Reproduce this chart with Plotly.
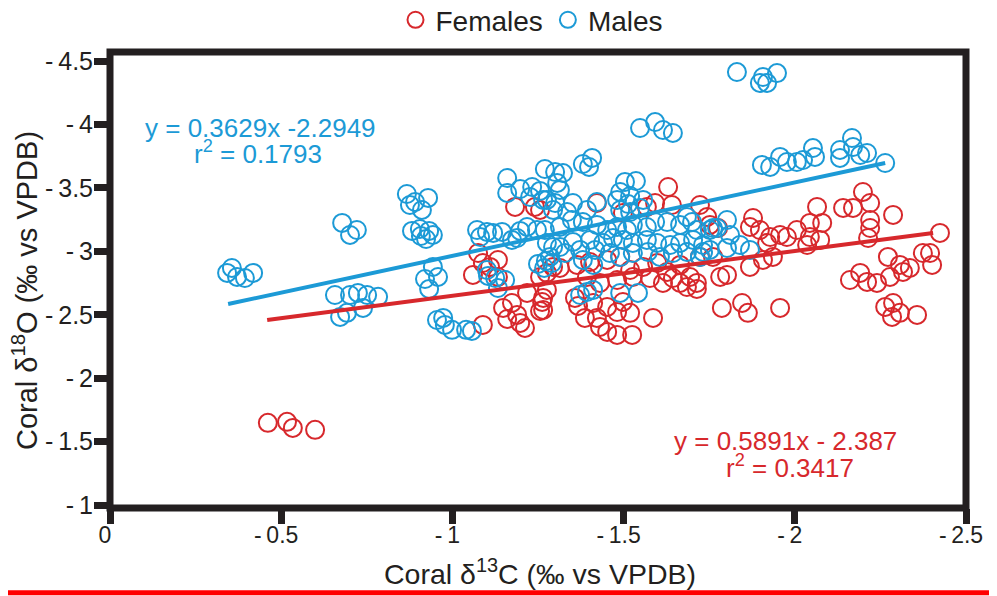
import plotly.graph_objects as go

# ---------------- data ----------------
females_d13c = [-0.461, -0.517, -0.534, -0.599,
                -1.075, -1.089, -1.133, -1.060, -1.110, -1.133,
                -1.183, -1.241, -1.256,
                -1.218, -1.262, -1.256, -1.148, -1.174, -1.189, -1.160, -1.198, -1.212, -1.089, -1.276,
                -1.294, -1.314, -1.364, -1.402, -1.452, -1.490, -1.519, -1.557, -1.598, -1.627, -1.665,
                -1.694, -1.714, -1.723, -1.761,
                -1.256, -1.276, -1.393, -1.431, -1.481, -1.527, -1.577, -1.615, -1.644, -1.665, -1.685, -1.714,
                -1.265, -1.265, -1.358, -1.367, -1.387, -1.411, -1.452, -1.481, -1.498, -1.519, -1.422,
                -1.431, -1.452, -1.481, -1.525, -1.586,
                -1.630, -1.592, -1.568, -1.641, -1.723, -1.744, -1.752, -1.776, -1.422, -1.498,
                -1.878, -1.869, -1.898, -1.919, -1.928, -1.957, -1.977, -2.006, -2.036, -2.044, -2.074,
                -2.044, -2.080, -2.065, -2.141, -2.170, -2.199, -2.220, -2.220, -2.220, -2.214, -2.287, -2.424,
                -1.936, -1.907, -1.869, -1.802, -1.782,
                -2.272, -2.307, -2.336, -2.395, -2.401, -2.161, -2.191, -2.211, -2.240, -2.278, -2.316, -2.374,
                -2.264, -2.287, -2.284, -2.307, -2.357,
                -1.787, -1.846, -1.863, -1.957]
females_d18o = [-1.648, -1.656, -1.608, -1.593,
                -2.987, -2.908, -2.932, -2.814, -2.877, -2.798,
                -3.350, -3.350, -3.326,
                -2.672, -2.601, -2.530, -2.554, -2.593, -2.499, -2.467, -2.436, -2.396, -2.420, -2.696,
                -2.877, -2.869, -2.893, -2.916, -2.932, -2.956, -2.853, -2.877, -2.908, -2.838, -2.893,
                -2.798, -2.751, -2.956, -2.956,
                -2.798, -2.830, -2.798, -2.751, -2.774, -2.798, -2.790, -2.751, -2.790, -2.751, -2.719, -2.704,
                -2.633, -2.538, -2.633, -2.570, -2.475, -2.593, -2.562, -2.522, -2.601, -2.515, -2.475,
                -2.404, -2.365, -2.341, -2.341, -2.475,
                -3.507, -3.381, -3.350, -3.365, -3.365, -3.271, -3.208, -3.184, -3.381, -3.302,
                -3.263, -3.192, -3.168, -3.066, -3.113, -3.129, -3.113, -3.168, -3.050, -3.113, -3.090,
                -3.224, -3.224, -3.350, -3.342, -3.342, -3.468, -3.381, -3.247, -3.184, -3.105, -3.287, -3.145,
                -2.956, -2.932, -2.877, -2.814, -2.798,
                -2.956, -2.893, -2.869, -2.987, -2.893, -2.774, -2.830, -2.759, -2.751, -2.798, -2.838, -2.987,
                -2.562, -2.593, -2.483, -2.515, -2.499,
                -2.554, -2.593, -2.515, -2.554]

males_d13c = [-0.356, -0.342, -0.371, -0.394, -0.418,
              -0.678, -0.721, -0.701,
              -0.657, -0.701, -0.724, -0.751, -0.783, -0.672, -0.692, -0.739,
              -0.867, -0.891, -0.929, -0.876, -0.911,
              -0.882, -0.905, -0.932, -0.908, -0.943, -0.923,
              -0.943, -0.958, -0.920, -0.932,
              -0.955, -0.973, -0.978, -0.999, -1.040, -1.057,
              -1.072, -1.101, -1.081, -1.119, -1.145, -1.174, -1.198, -1.218, -1.247, -1.189,
              -1.160, -1.160, -1.198, -1.233, -1.256, -1.270, -1.300, -1.323, -1.227, -1.276, -1.294, -1.306,
              -1.104, -1.125, -1.133, -1.154, -1.101,
              -1.250, -1.273, -1.291, -1.268,
              -1.276, -1.294,
              -1.381, -1.408, -1.399,
              -1.314, -1.265, -1.300, -1.352, -1.422, -1.393, -1.335,
              -1.504, -1.536, -1.490, -1.519, -1.481, -1.513, -1.557, -1.548, -1.490, -1.519,
              -1.270, -1.314, -1.349, -1.381, -1.422, -1.452, -1.481, -1.510, -1.527, -1.568, -1.592, -1.627,
              -1.685, -1.665, -1.700, -1.714, -1.752, -1.773,
              -1.314, -1.352, -1.402, -1.440, -1.469, -1.498, -1.527, -1.568, -1.598, -1.636, -1.665, -1.703,
              -1.732, -1.752,
              -1.285, -1.329, -1.373, -1.417, -1.460, -1.490, -1.527, -1.571, -1.606, -1.644, -1.685, -1.723,
              -1.381, -1.411, -1.393, -1.373, -1.411, -1.490, -1.542,
              -1.548, -1.592, -1.615, -1.644,
              -1.831, -1.907, -1.948, -1.898, -1.919,
              -1.904, -1.928, -1.957, -1.977, -2.006, -2.024, -2.053, -2.059, -2.132, -2.132, -2.167, -2.170,
              -2.191, -2.211, -2.264,
              -1.761, -1.802, -1.811, -1.840, -1.869, -1.802, -1.732]
males_d18o = [-2.869, -2.830, -2.798, -2.790, -2.830,
              -3.224, -3.168, -3.129,
              -2.656, -2.656, -2.672, -2.656, -2.641, -2.483, -2.515, -2.554,
              -3.452, -3.389, -3.421, -3.365, -3.326,
              -3.161, -3.176, -3.161, -3.121, -3.129, -3.097,
              -2.877, -2.798, -2.782, -2.704,
              -2.459, -2.475, -2.420, -2.381, -2.381, -2.373,
              -3.168, -3.153, -3.113, -3.145, -3.153, -3.090, -3.161, -3.192, -3.168, -3.105,
              -3.578, -3.460, -3.491, -3.507, -3.476, -3.649, -3.625, -3.617, -3.428, -3.405, -3.326, -3.539,
              -2.806, -2.790, -2.711, -2.774, -2.853,
              -2.901, -2.924, -2.908, -2.869,
              -3.066, -3.034,
              -3.688, -3.736, -3.665,
              -3.484, -3.405, -3.381, -3.381, -3.389, -3.326, -3.310,
              -3.547, -3.554, -3.468, -3.436, -3.405, -3.373, -3.405, -3.342, -3.326, -3.310,
              -3.168, -3.192, -3.247, -3.231, -3.208, -3.168, -3.192, -3.168, -3.208, -3.192, -3.231, -3.231,
              -3.271, -3.208, -3.231, -3.168, -3.168, -3.184,
              -3.034, -3.074, -3.090, -3.066, -3.105, -3.090, -3.066, -3.090, -3.066, -3.050, -3.066, -3.090,
              -3.050, -3.011,
              -2.956, -2.987, -3.011, -3.011, -2.987, -2.956, -2.987, -2.995, -2.956, -2.987, -2.995, -2.956,
              -2.932, -2.893, -2.680, -2.656, -2.696, -2.672, -2.672,
              -3.972, -4.019, -3.956, -3.933,
              -4.413, -4.374, -4.405, -4.327, -4.327,
              -3.681, -3.665, -3.744, -3.704, -3.704, -3.720, -3.814, -3.744, -3.799, -3.736, -3.893, -3.822,
              -3.759, -3.775, -3.696,
              -3.184, -3.247, -3.129, -3.050, -3.011, -3.027, -2.995]

# fitted trend lines (end points as drawn in the reference)
males_fit_x = [-0.345, -2.264]
males_fit_y = [-2.585, -3.696]
females_fit_x = [-0.459, -2.404]
females_fit_y = [-2.459, -3.145]

x_tick_vals = [0, -0.5, -1, -1.5, -2, -2.5]
x_tick_text = ["0", "-\u20090.5", "-\u20091", "-\u20091.5", "-\u20092", "-\u20092.5"]
y_tick_vals = [-1, -1.5, -2, -2.5, -3, -3.5, -4, -4.5]
y_tick_text = ["-\u20091", "-\u20091.5", "-\u20092", "-\u20092.5", "-\u20093", "-\u20093.5", "-\u20094", "-\u20094.5"]

x_title = "Coral δ<sup>13</sup>C (‰ vs VPDB)"
y_title = "Coral δ<sup>18</sup>O (‰ vs VPDB)"
males_eq = "y = 0.3629x -2.2949"
males_r2 = "r<sup>2</sup> = 0.1793"
females_eq = "y = 0.5891x - 2.387"
females_r2 = "r<sup>2</sup> = 0.3417"

# ---------------- styling ----------------
RED = "#D7282C"
BLUE = "#1C9AD6"
INK = "#231F20"
FONT = "Liberation Sans, Arial, sans-serif"

fig = go.Figure()
fig.add_trace(go.Scatter(
    x=females_d13c, y=females_d18o, mode="markers", name="Females",
    marker=dict(symbol="circle-open", size=18, color=RED, line=dict(width=2, color=RED)),
))
fig.add_trace(go.Scatter(
    x=males_d13c, y=males_d18o, mode="markers", name="Males",
    marker=dict(symbol="circle-open", size=18, color=BLUE, line=dict(width=2, color=BLUE)),
))
fig.add_trace(go.Scatter(
    x=males_fit_x, y=males_fit_y, mode="lines", showlegend=False,
    line=dict(color=BLUE, width=4), hoverinfo="skip",
))
fig.add_trace(go.Scatter(
    x=females_fit_x, y=females_fit_y, mode="lines", showlegend=False,
    line=dict(color=RED, width=4), hoverinfo="skip",
))

axis_common = dict(
    showline=False,
    ticks="outside", ticklen=15, tickwidth=7, tickcolor=INK,
    showgrid=False, zeroline=False,
)

fig.update_layout(
    width=989, height=588,
    margin=dict(l=102, r=31, t=44, b=88, autoexpand=False),
    paper_bgcolor="white", plot_bgcolor="white",
    font=dict(family=FONT, color=INK),
    showlegend=True,
    legend=dict(orientation="h", x=0.493, xanchor="center", y=1.07, yanchor="middle",
                font=dict(family=FONT, size=28, color=INK), itemwidth=30,
                bgcolor="rgba(0,0,0,0)"),
    xaxis=dict(range=[0, -2.5], tickvals=x_tick_vals, ticktext=x_tick_text,
               ticklabelshift=5, ticklabelstandoff=-9,
               tickfont=dict(family=FONT, size=23, color=INK), **axis_common),
    yaxis=dict(range=[-0.977, -4.571], tickvals=y_tick_vals, ticktext=y_tick_text,
               ticklabelstandoff=-4,
               tickfont=dict(family=FONT, size=25, color=INK), **axis_common),
)

# heavy frame around the plotting area
fig.add_shape(type="rect", xref="paper", yref="paper", x0=0, x1=1, y0=0, y1=1,
              line=dict(color=INK, width=7), layer="above")

# axis titles
fig.add_annotation(xref="paper", yref="paper", x=0.5023, y=-0.1404, xanchor="center", yanchor="middle",
                   text=x_title, showarrow=False, font=dict(family=FONT, size=28.5, color=INK))
fig.add_annotation(xref="paper", yref="paper", x=-0.0993, y=0.478, xanchor="center", yanchor="middle",
                   text=y_title, textangle=-90, showarrow=False,
                   font=dict(family=FONT, size=29, color=INK))

# regression equations
fig.add_annotation(xref="paper", yref="paper", x=0.176, y=0.833, xanchor="center", yanchor="middle",
                   text=males_eq, showarrow=False, font=dict(family=FONT, size=26, color=BLUE))
fig.add_annotation(xref="paper", yref="paper", x=0.173, y=0.780, xanchor="center", yanchor="middle",
                   text=males_r2, showarrow=False, font=dict(family=FONT, size=26, color=BLUE))
fig.add_annotation(xref="paper", yref="paper", x=0.789, y=0.147, xanchor="center", yanchor="middle",
                   text=females_eq, showarrow=False, font=dict(family=FONT, size=26, color=RED))
fig.add_annotation(xref="paper", yref="paper", x=0.794, y=0.090, xanchor="center", yanchor="middle",
                   text=females_r2, showarrow=False, font=dict(family=FONT, size=26, color=RED))

# red rule along the bottom edge of the picture
fig.add_shape(type="line", xref="paper", yref="paper", x0=-0.2, x1=1.2, y0=-0.186, y1=-0.186,
              line=dict(color="#FF0000", width=5), layer="above")

fig.write_html("out.html")
